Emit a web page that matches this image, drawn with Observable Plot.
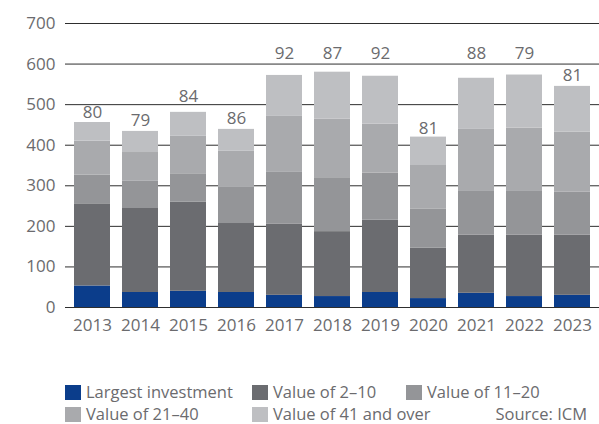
<!DOCTYPE html>
<html>
<head>
<meta charset="utf-8">
<script src="https://cdn.jsdelivr.net/npm/d3@7"></script>
<script src="https://cdn.jsdelivr.net/npm/@observablehq/plot@0.6"></script>
<style>
  body { margin: 0; background: #fff; font-family: "Open Sans", sans-serif; overflow: hidden; }
  #chart { position: relative; width: 599px; }
  #legend { position: relative; width: 599px; height: 79px; font-size: 16.5px; line-height: 18px; color: #6b6b6e; }
  .item { position: absolute; display: flex; align-items: center; white-space: nowrap; height: 18px; }
  .sw { width: 16px; height: 15px; margin-right: 5px; }
</style>
</head>
<body>
<div id="chart"></div>
<div id="legend"></div>
<script>
const years = ["2013","2014","2015","2016","2017","2018","2019","2020","2021","2022","2023"];
const seriesNames = ["Largest investment", "Value of 2–10", "Value of 11–20", "Value of 21–40", "Value of 41 and over"];
const seriesColors = ["#0b3d8b", "#6b6c70", "#949598", "#a9aaad", "#bebfc2"];
const largest = [53, 37, 40, 37, 30, 27, 37, 22, 35, 27, 30];
const v2to10  = [201, 207, 220, 170, 175, 160, 178, 124, 143, 151, 148];
const v11to20 = [72, 67, 68, 89, 128, 131, 116, 96, 108, 108, 106];
const v21to40 = [84, 71, 94, 89, 138, 146, 121, 108, 153, 156, 148];
const v41plus = [46, 52, 59, 54, 101, 116, 118, 70, 126, 131, 113];
const counts  = [80, 79, 84, 86, 92, 87, 92, 81, 88, 79, 81];
const countLabelY = [481, 461, 520, 466, 627, 627, 627, 441, 627, 627, 572];
const yTicks = [0, 100, 200, 300, 400, 500, 600, 700];
const sourceText = "Source: ICM";

const seriesValues = [largest, v2to10, v11to20, v21to40, v41plus];
const rows = [];
years.forEach((yr, i) => {
  seriesNames.forEach((s, j) => rows.push({year: yr, series: s, value: seriesValues[j][i]}));
});
const labels = years.map((yr, i) => ({year: yr, y: countLabelY[i], text: String(counts[i])}));

const chart = Plot.plot({
  width: 599,
  height: 345,
  marginLeft: 65,
  marginRight: 0,
  marginTop: 23,
  marginBottom: 38,
  style: { fontFamily: "Open Sans", fontSize: "17px", color: "#6b6b6e", background: "#fff" },
  x: { domain: years, paddingInner: 0.26, paddingOuter: 0.13, label: null, tickSize: 0, tickPadding: 11 },
  y: { domain: [0, 700], ticks: yTicks, label: null, tickSize: 0, tickPadding: 10 },
  color: { domain: seriesNames, range: seriesColors },
  marks: [
    Plot.ruleY(yTicks, { stroke: "#2e2e2e", strokeWidth: 1 }),
    Plot.barY(rows, { x: "year", y: "value", fill: "series", order: seriesNames }),
    Plot.ruleY([0], { stroke: "#2e2e2e", strokeWidth: 1.2 }),
    Plot.text(labels, { x: "year", y: "y", text: "text", fill: "#6b6b6e", fontSize: 17 })
  ]
});
document.getElementById("chart").appendChild(chart);

const legend = document.getElementById("legend");
const pos = [
  [65, 47], [252, 47], [406, 47],
  [65, 69], [252, 69]
];
seriesNames.forEach((s, j) => {
  const d = document.createElement("div");
  d.className = "item";
  d.style.left = pos[j][0] + "px";
  d.style.top = (pos[j][1] - 9) + "px";
  d.innerHTML = `<div class="sw" style="background:${seriesColors[j]}"></div><span>${s}</span>`;
  legend.appendChild(d);
});
const src = document.createElement("div");
src.className = "item";
src.style.right = "12px";
src.style.top = (69 - 9) + "px";
src.textContent = sourceText;
legend.appendChild(src);
</script>
</body>
</html>
